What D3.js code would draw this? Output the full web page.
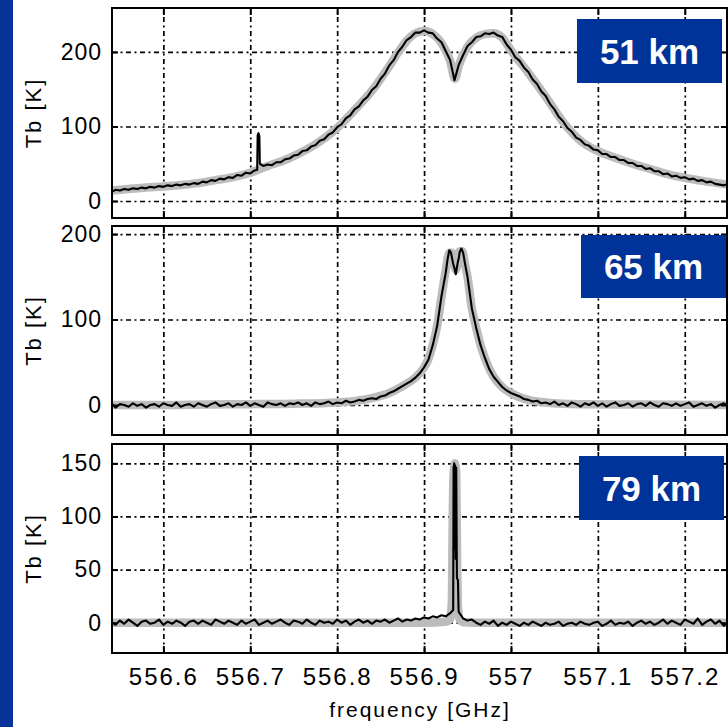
<!DOCTYPE html>
<html><head><meta charset="utf-8">
<script src="https://cdn.jsdelivr.net/npm/d3@7"></script>
<style>
html,body{margin:0;padding:0;background:#fff;}
svg{display:block;}
</style></head><body>
<svg id="chart" width="728" height="727"></svg>
<script>
// ---------- DATA ----------
const freqGHz = [
556.540,556.545,556.550,556.555,556.560,556.565,556.570,556.575,556.580,556.585,
556.590,556.595,556.600,556.605,556.610,556.615,556.620,556.625,556.630,556.635,
556.640,556.645,556.650,556.655,556.660,556.665,556.670,556.675,556.680,556.685,
556.690,556.695,556.700,556.705,556.710,556.715,556.720,556.725,556.730,556.735,
556.740,556.745,556.750,556.755,556.760,556.765,556.770,556.775,556.780,556.785,
556.790,556.795,556.800,556.805,556.810,556.815,556.820,556.825,556.830,556.835,
556.840,556.845,556.850,556.855,556.860,556.865,556.870,556.875,556.880,556.885,
556.890,556.895,556.900,556.905,556.910,556.915,556.920,556.925,556.930,556.935,
556.940,556.945,556.950,556.955,556.960,556.965,556.970,556.975,556.980,556.985,
556.990,556.995,557.000,557.005,557.010,557.015,557.020,557.025,557.030,557.035,
557.040,557.045,557.050,557.055,557.060,557.065,557.070,557.075,557.080,557.085,
557.090,557.095,557.100,557.105,557.110,557.115,557.120,557.125,557.130,557.135,
557.140,557.145,557.150,557.155,557.160,557.165,557.170,557.175,557.180,557.185,
557.190,557.195,557.200,557.205,557.210,557.215,557.220,557.225,557.230,557.235,
557.240,557.245,557.250];

// 51 km measured Tb [K]
const tb51 = [
12,15,14,16,15,17,16,18,17,19,
18,20,19,21,20,22,21,23,22,24,
23,26,25,28,27,30,29,32,31,35,
34,38,37,41,89,47,49,48,52,52,
56,57,61,62,67,68,73,75,81,83,
89,92,99,103,111,115,123,127,135,140,
149,154,164,171,182,189,200,207,216,220,
226,226,229,226,225,218,213,201,189,162,
183,196,208,213,220,221,225,224,226,222,
220,210,203,193,188,179,173,163,157,147,
141,130,123,113,107,98,93,85,82,76,
74,69,68,63,63,59,59,55,55,51,
51,47,47,43,44,40,40,36,37,33,
34,31,32,29,30,27,28,25,26,23,
22,21,23];
const extra51F = [556.708,556.7085,556.7095,556.7105,556.711];
const extra51V = [42,88,91,87,50];
const fit51F = [556.54,556.56,556.58,556.60,556.62,556.64,556.66,556.68,556.70,556.72,556.74,556.76,556.78,556.80,556.82,556.84,556.86,556.87,556.88,556.89,556.90,556.91,556.92,556.93,556.9355,556.94,556.95,556.96,556.97,556.98,556.99,557.00,557.02,557.04,557.06,557.08,557.10,557.12,557.14,557.16,557.18,557.20,557.22,557.25];
const fit51V = [14,16,18,19.5,21.5,24,28,32,38,47,55,66,80,98,122,148,181,199,215,225,228,224,212,188,164,182,207,219,224,225,219,202,172,140,106,81,67,58,50,43,36,31,27,22];

// 65 km measured Tb [K]
const tb65 = [
2,-3,1,0,-2,2,-1,1,-3,0,
1,-2,2,0,-1,3,-2,0,1,-2,
2,0,-2,1,3,-1,0,2,-2,1,
0,3,-1,2,0,-2,3,1,0,2,
-1,2,1,3,0,2,-1,3,1,2,
4,1,3,2,5,3,4,6,5,7,
8,7,10,11,14,16,19,22,25,28,
32,37,44,53,70,92,127,155,180,160,
172,178,150,113,90,70,55,42,33,27,
21,17,14,12,10,7,6,4,5,2,
3,1,4,0,2,-1,3,1,-2,2,
0,3,-1,2,-2,1,3,-1,0,2,
-2,1,2,-1,3,0,-2,2,1,-1,
2,-1,1,3,-2,0,2,-1,1,-3,
0,2,-1];
const extra65F = [556.927,556.929,556.931,556.9335,556.9365,556.939,556.941,556.943,556.947];
const extra65V = [170,181,178,165,153,168,179,183,166];
const fit65F = [556.54,556.60,556.65,556.70,556.75,556.80,556.82,556.84,556.86,556.87,556.88,556.89,556.90,556.905,556.91,556.915,556.92,556.925,556.929,556.932,556.9365,556.941,556.944,556.947,556.95,556.955,556.96,556.965,556.97,556.98,556.99,557.00,557.02,557.04,557.08,557.25];
const fit65V = [0,0,0.5,1,1.5,3,4.5,8,14,19,25,32,44,54,70,92,126,158,178,178,158,180,180,165,150,113,90,70,55,33,21,14,6,3,1,0];

// 79 km measured Tb [K]
const tb79 = [
1,-2,2,-1,3,0,-3,1,2,-1,
0,3,-2,1,-1,2,0,-3,1,2,
-1,2,0,-2,3,1,-1,2,0,-2,
2,-1,1,3,-2,0,2,-1,1,3,
0,-2,2,1,-1,3,0,-2,2,0,
1,-1,3,0,2,-2,1,3,0,2,
-1,2,1,3,0,2,4,1,3,2,
4,3,5,4,6,5,7,6,9,148,
10,4,2,3,0,-2,1,-1,2,-3,
0,-2,1,-1,-3,0,-2,1,-1,-3,
0,-2,-1,1,-3,-1,0,-2,1,-1,
-2,0,1,-3,-1,2,-2,0,-1,1,
-3,0,2,-1,1,-2,0,3,-1,2,
0,-2,3,1,-1,4,-2,1,3,-1,
2,-3,1];
const extra79F = [556.9335,556.934,556.9347,556.9352,556.9358,556.9364,556.937,556.9378,556.939,556.9397];
const extra79V = [12,146,150,70,148,60,146,42,40,12];
const fit79F = [556.54,556.90,556.925,556.930,556.932,556.933,556.934,556.9355,556.937,556.938,556.939,556.941,556.945,556.97,557.25];
const fit79V = [0,0,1,3,20,100,140,150,140,60,15,3,0.5,0,0];

const xTicks = [556.6,556.7,556.8,556.9,557.0,557.1,557.2];
const xTickLabels = ["556.6","556.7","556.8","556.9","557","557.1","557.2"];
const yTicks51 = [0,100,200];
const yTicks65 = [0,100,200];
const yTicks79 = [0,50,100,150];
const panelLabels = ["51 km","65 km","79 km"];
const yTitle = "Tb [K]";
const xTitle = "frequency [GHz]";

// ---------- LAYOUT ----------
const L = 112, R = 727;
const FONT = '"Liberation Sans", Arial, Helvetica, sans-serif';
const panels = [
  {top:8,   bottom:218, yDomain:[-22.8,259],  yTicks:yTicks51, tb:tb51, exF:extra51F, exV:extra51V, fitF:fit51F, fitV:fit51V, box:{x:577,y:19,w:145,h:64}},
  {top:226, bottom:435, yDomain:[-35.1,209.4],yTicks:yTicks65, tb:tb65, exF:extra65F, exV:extra65V, fitF:fit65F, fitV:fit65V, box:{x:581,y:235,w:145,h:63}},
  {top:444, bottom:653, yDomain:[-28.5,168.2],yTicks:yTicks79, tb:tb79, exF:extra79F, exV:extra79V, fitF:fit79F, fitV:fit79V, box:{x:579,y:456,w:145,h:64}}
];

const svg = d3.select('#chart');
svg.append('rect').attr('width',728).attr('height',727).attr('fill','#ffffff');
svg.append('rect').attr('x',0).attr('y',0).attr('width',13).attr('height',727).attr('fill','#0a3399');

const x = d3.scaleLinear().domain([556.5409, 557.2486]).range([L, R]);

panels.forEach((p, k) => {
  const y = d3.scaleLinear().domain(p.yDomain).range([p.bottom, p.top]);
  const g = svg.append('g');
  const H = p.bottom - p.top;
  const clipId = 'clip' + k;
  svg.append('clipPath').attr('id', clipId).append('rect')
    .attr('x', L).attr('y', p.top).attr('width', R - L).attr('height', H);

  // grid
  const dash = '5,3.5,2,3.5';
  g.append('g').attr('transform', `translate(0,${p.bottom})`)
    .call(d3.axisBottom(x).tickValues(xTicks).tickSize(-H).tickFormat(''))
    .call(s => s.select('.domain').remove())
    .call(s => s.selectAll('line').attr('stroke', '#000').attr('stroke-width', 1.7).attr('stroke-dasharray', dash));
  g.append('g').attr('transform', `translate(${L},0)`)
    .call(d3.axisLeft(y).tickValues(p.yTicks).tickSize(-(R - L)).tickFormat(''))
    .call(s => s.select('.domain').remove())
    .call(s => s.selectAll('line').attr('stroke', '#000').attr('stroke-width', 1.7).attr('stroke-dasharray', dash));

  // data
  const meas = p.tb.map((v, i) => [freqGHz[i], v])
    .concat(p.exF.map((f, i) => [f, p.exV[i]]))
    .sort((a, b) => a[0] - b[0]);
  const fit = p.fitF.map((f, i) => [f, p.fitV[i]]);
  const cg = g.append('g').attr('clip-path', `url(#${clipId})`);
  cg.append('path').datum(fit)
    .attr('d', d3.line().x(d => x(d[0])).y(d => y(d[1])).curve(d3.curveMonotoneX))
    .attr('fill', 'none').attr('stroke', '#bcbcbc').attr('stroke-width', 8.5)
    .attr('stroke-linejoin', 'round').attr('stroke-linecap', 'round');
  cg.append('path').datum(meas)
    .attr('d', d3.line().x(d => x(d[0])).y(d => y(d[1])))
    .attr('fill', 'none').attr('stroke', '#000').attr('stroke-width', 2.1)
    .attr('stroke-linejoin', 'round');

  // inward ticks on all four sides
  const tickStyle = s => { s.select('.domain').remove(); s.selectAll('line').attr('stroke', '#000').attr('stroke-width', 2); s.selectAll('text').remove(); };
  g.append('g').attr('transform', `translate(0,${p.top})`).call(d3.axisTop(x).tickValues(xTicks).tickSize(-7)).call(tickStyle);
  g.append('g').attr('transform', `translate(0,${p.bottom})`).call(d3.axisBottom(x).tickValues(xTicks).tickSize(-7)).call(tickStyle);
  g.append('g').attr('transform', `translate(${L},0)`).call(d3.axisLeft(y).tickValues(p.yTicks).tickSize(-6)).call(tickStyle);
  g.append('g').attr('transform', `translate(${R},0)`).call(d3.axisRight(y).tickValues(p.yTicks).tickSize(-6)).call(tickStyle);

  // frame
  g.append('rect').attr('x', L).attr('y', p.top).attr('width', R - L).attr('height', H)
    .attr('fill', 'none').attr('stroke', '#000').attr('stroke-width', 2);

  // y tick labels
  g.append('g').attr('transform', `translate(${L},0)`)
    .call(d3.axisLeft(y).tickValues(p.yTicks).tickSize(0).tickPadding(10).tickFormat(d3.format('d')))
    .call(s => s.select('.domain').remove())
    .attr('font-family', FONT).attr('font-size', 23)
    .call(s => s.selectAll('text').attr('fill', '#000').attr('letter-spacing', '1px'));

  // y title
  svg.append('text').attr('transform', `translate(33,${(p.top + p.bottom) / 2}) rotate(-90)`)
    .attr('text-anchor', 'middle').attr('dominant-baseline', 'central')
    .attr('font-family', FONT).attr('font-size', 22).attr('letter-spacing', '2px')
    .attr('fill', '#000').text(yTitle);

  // panel label box
  svg.append('rect').attr('x', p.box.x).attr('y', p.box.y).attr('width', p.box.w).attr('height', p.box.h).attr('fill', '#003399');
  svg.append('text').attr('x', p.box.x + p.box.w / 2).attr('y', p.box.y + p.box.h / 2 + 12.5)
    .attr('text-anchor', 'middle').attr('font-family', FONT).attr('font-weight', 'bold')
    .attr('font-size', 35).attr('fill', '#fff').text(panelLabels[k]);

  if (k === panels.length - 1) {
    g.append('g').attr('transform', `translate(0,${p.bottom})`)
      .call(d3.axisBottom(x).tickValues(xTicks).tickSize(0).tickPadding(15).tickFormat((d, i) => xTickLabels[i]))
      .call(s => s.select('.domain').remove())
      .attr('font-family', FONT).attr('font-size', 24)
      .call(s => s.selectAll('text').attr('fill', '#000').attr('letter-spacing', '2px'));
  }
});

svg.append('text').attr('x', 420).attr('y', 717).attr('text-anchor', 'middle')
  .attr('font-family', FONT).attr('font-size', 21).attr('letter-spacing', '2px')
  .attr('fill', '#000').text(xTitle);
</script>
</body></html>
